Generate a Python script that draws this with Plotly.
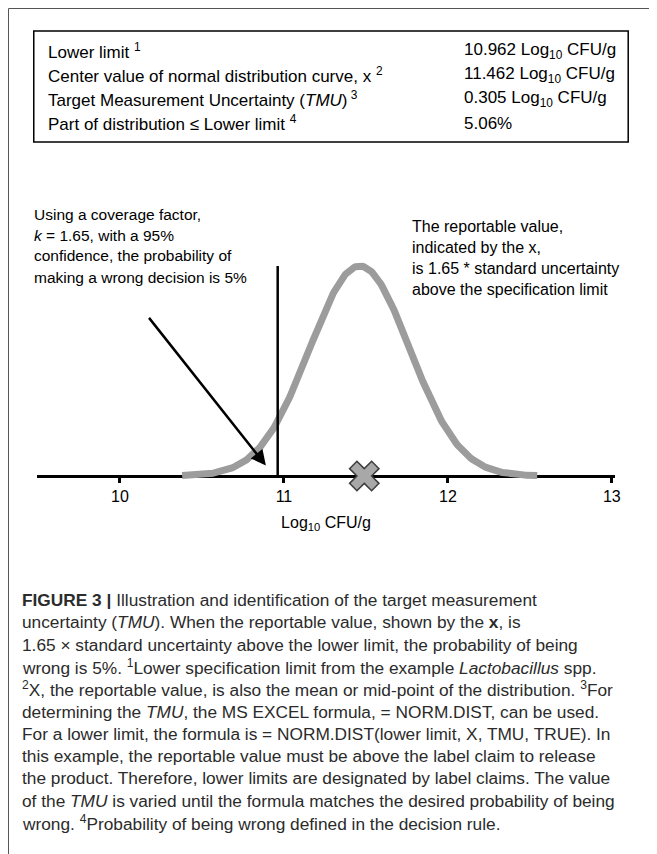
import numpy as np
import plotly.graph_objects as go

# The page body has an 8px margin, so the figure is drawn 8px smaller and
# every reference pixel position is shifted by that offset.
OFF = 8
W, H = 657 - OFF, 854 - OFF

# ---- data ----
table_labels = [
    "Lower limit <sup>1</sup>",
    "Center value of normal distribution curve, x <sup>2</sup>",
    "Target Measurement Uncertainty (<i>TMU</i>)<sup> 3</sup>",
    "Part of distribution ≤ Lower limit <sup>4</sup>",
]
table_values = [
    "10.962 Log<sub>10</sub> CFU/g",
    "11.462 Log<sub>10</sub> CFU/g",
    "0.305 Log<sub>10</sub> CFU/g",
    "5.06%",
]
lower_limit = 10.962
center_value = 11.462
tmu = 0.305
reported_x = 11.49
curve_span_sd = 3.55
tick_vals = [10, 11, 12, 13]
tick_text = ["10", "11", "12", "13"]

caption_lines = [
    "<b>FIGURE 3 |</b> Illustration and identification of the target measurement",
    "uncertainty (<i>TMU</i>). When the reportable value, shown by the <b>x</b>, is",
    "1.65 × standard uncertainty above the lower limit, the probability of being",
    "wrong is 5%. <sup>1</sup>Lower specification limit from the example <i>Lactobacillus</i> spp.",
    "<sup>2</sup>X, the reportable value, is also the mean or mid-point of the distribution. <sup>3</sup>For",
    "determining the <i>TMU</i>, the MS EXCEL formula, = NORM.DIST, can be used.",
    "For a lower limit, the formula is = NORM.DIST(lower limit, X, TMU, TRUE). In",
    "this example, the reportable value must be above the label claim to release",
    "the product. Therefore, lower limits are designated by label claims. The value",
    "of the <i>TMU</i> is varied until the formula matches the desired probability of being",
    "wrong. <sup>4</sup>Probability of being wrong defined in the decision rule.",
]

# normal distribution curve defined by the table values (scaled so the peak = 1)
xs = np.linspace(center_value - curve_span_sd * tmu, center_value + curve_span_sd * tmu, 300)
ys = np.exp(-0.5 * ((xs - center_value) / tmu) ** 2)


def px(xp):
    return (xp - OFF) / W


def py(yp):
    return 1 - (yp - OFF) / H


FONT = "Liberation Sans, Arial, sans-serif"

fig = go.Figure()

fig.add_trace(go.Scatter(x=xs, y=ys, mode="lines",
                         line=dict(color="#9c9c9c", width=7), hoverinfo="skip"))
fig.add_trace(go.Scatter(x=[lower_limit, lower_limit], y=[0, 1.0], mode="lines",
                         line=dict(color="black", width=2.5), hoverinfo="skip"))
fig.add_trace(go.Scatter(x=[reported_x], y=[0], mode="markers",
                         marker=dict(symbol="x", size=26, color="#a8a8a8",
                                     line=dict(color="#3c3c3c", width=1.5)),
                         hoverinfo="skip", cliponaxis=False))

axis_px = 476
peak_px = 266
unit_px = axis_px - peak_px
y_top_px, y_bot_px = 140, 560
ydom = [py(y_bot_px), py(y_top_px)]
yrange = [-(y_bot_px - axis_px) / unit_px, (axis_px - y_top_px) / unit_px]

tick10_px, tick12_px = 121, 452
x_left_px, x_right_px = 37, 621
px_per_unit = (tick12_px - tick10_px) / 2.0
xr0 = 10 - (tick10_px - x_left_px) / px_per_unit
xr1 = 10 + (x_right_px - tick10_px) / px_per_unit

fig.update_layout(
    width=W, height=H,
    margin=dict(l=0, r=0, t=0, b=0),
    paper_bgcolor="white", plot_bgcolor="rgba(0,0,0,0)",
    showlegend=False,
    font=dict(family=FONT, color="black", size=15),
    xaxis=dict(domain=[px(x_left_px), px(x_right_px)], range=[xr0, xr1],
               anchor="free", position=py(axis_px),
               showline=True, linecolor="black", linewidth=3,
               ticks="outside", ticklen=5, tickwidth=3, tickcolor="black",
               tickvals=tick_vals, ticktext=tick_text,
               tickfont=dict(size=16, family=FONT),
               showgrid=False, zeroline=False, layer="below traces",
               title=dict(text="Log<sub>10</sub> CFU/g", font=dict(size=16, family=FONT), standoff=12)),
    yaxis=dict(domain=ydom, range=yrange, visible=False, showgrid=False, zeroline=False),
)

shapes = [
    # outer frame (top and left)
    dict(type="line", xref="paper", yref="paper", x0=px(8.5), x1=1, y0=py(8.5), y1=py(8.5),
         line=dict(color="#555555", width=1)),
    dict(type="line", xref="paper", yref="paper", x0=px(8.5), x1=px(8.5), y0=py(8.5), y1=0,
         line=dict(color="#555555", width=1)),
    # table box
    dict(type="rect", xref="paper", yref="paper", x0=px(34), x1=px(634), y0=py(31), y1=py(142),
         line=dict(color="black", width=1.5)),
]
fig.update_layout(shapes=shapes)

ann = []
row_y = [51, 75, 99, 123]
for lab, val, yy in zip(table_labels, table_values, row_y):
    ann.append(dict(text=lab, x=px(46), y=py(yy), xref="paper", yref="paper",
                    xanchor="left", yanchor="middle", showarrow=False, font=dict(size=17)))
    ann.append(dict(text=val, x=px(466), y=py(yy), xref="paper", yref="paper",
                    xanchor="left", yanchor="middle", showarrow=False, font=dict(size=17)))

left_lines = ["Using a coverage factor,", "<i>k</i> = 1.65, with a 95%",
              "confidence, the probability of", "making a wrong decision is 5%"]
right_lines = ["The reportable value,", "indicated by the x,",
               "is 1.65 * standard uncertainty", "above the specification limit"]
for i, t in enumerate(left_lines):
    ann.append(dict(text=t, x=px(32), y=py(214 + i * 21), xref="paper", yref="paper",
                    xanchor="left", yanchor="middle", showarrow=False, font=dict(size=15.5)))
for i, t in enumerate(right_lines):
    ann.append(dict(text=t, x=px(414), y=py(226 + i * 21), xref="paper", yref="paper",
                    xanchor="left", yanchor="middle", showarrow=False, font=dict(size=16)))

# arrow pointing at the lower tail
ann.append(dict(x=10.89, y=0.05, ax=10.17, ay=0.76, xref="x", yref="y", axref="x", ayref="y",
                text="", showarrow=True, arrowhead=2, arrowsize=1.2, arrowwidth=2.5,
                arrowcolor="black"))

for i, t in enumerate(caption_lines):
    ann.append(dict(text=t, x=px(20), y=py(600 + i * 22.3), xref="paper", yref="paper",
                    xanchor="left", yanchor="middle", align="left", showarrow=False,
                    font=dict(size=17.3, color="#2b2b2b", family=FONT)))

fig.update_layout(annotations=ann)
fig.write_html("out.html")
